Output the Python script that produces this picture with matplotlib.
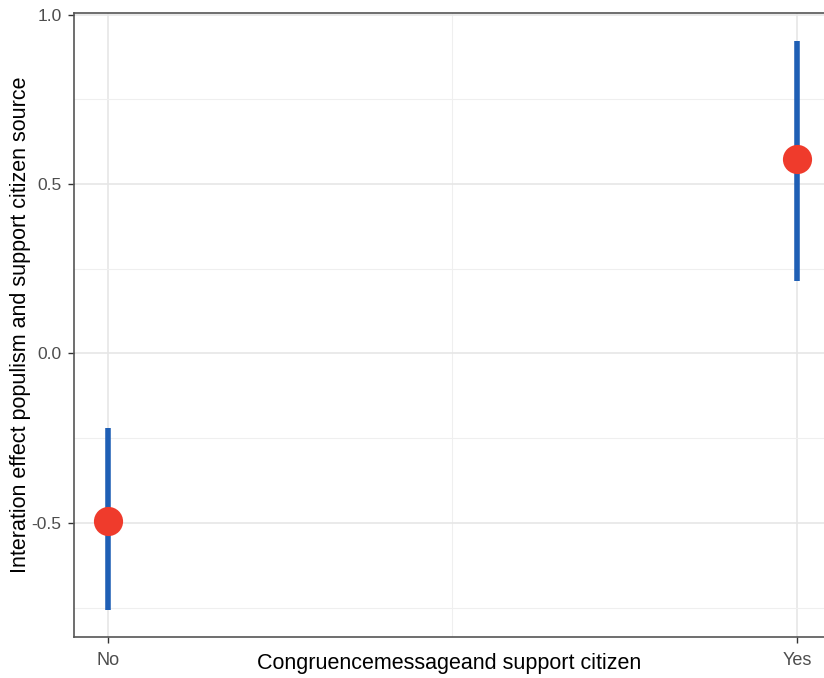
import numpy as np
from matplotlib import pyplot as plt
from matplotlib.ticker import MultipleLocator, FixedLocator

plt.rcParams['font.family'] = ['Liberation Sans', 'DejaVu Sans']
plt.rcParams['axes.unicode_minus'] = False

######## Datos

grupos = ["No", "Yes"]
efecto = [-0.494, 0.574]
inferior = [-0.757, 0.213]
superior = [-0.219, 0.923]

x = np.arange(1, len(grupos) + 1)

######## Grafica

fig = plt.figure(figsize=(8.24, 6.78), dpi=100)
ax = fig.add_axes([0.0898, 0.0605, 0.9102, 0.9203])

ax.vlines(x, inferior, superior, color="#1F5FB5", linewidth=4, zorder=3)
ax.plot(x, efecto, "o", color="#EF3B2C", markersize=21, markeredgewidth=0, zorder=4)

ax.set_xlim(0.951, 2.039)
ax.set_ylim(-0.837, 1.005)

ax.set_xticks(x)
ax.set_xticklabels(grupos)
ax.xaxis.set_minor_locator(FixedLocator([1.5]))
ax.yaxis.set_major_locator(MultipleLocator(0.5))
ax.yaxis.set_minor_locator(MultipleLocator(0.25))

ax.grid(which="major", color="#E6E6E6", linewidth=1.2, zorder=0)
ax.grid(which="minor", color="#EFEFEF", linewidth=0.8, zorder=0)
ax.set_axisbelow(True)

for lado in ["left", "top", "bottom"]:
    ax.spines[lado].set_color("#555555")
    ax.spines[lado].set_linewidth(1.2)
ax.spines["right"].set_visible(False)

ax.tick_params(which="major", length=4, width=1, color="#333333",
               labelcolor="#4D4D4D", labelsize=12.5)
ax.tick_params(axis="y", pad=5)
ax.tick_params(axis="x", pad=6.5, labelsize=13)
ax.tick_params(which="minor", length=0)

ax.set_xlabel("Congruencemessageand support citizen", fontsize=15.5, va="center")
ax.xaxis.set_label_coords(0.5, -0.0433)
ax.set_ylabel("Interation effect populism and support citizen source", fontsize=15.5, va="center")
ax.yaxis.set_label_coords(-0.071, 0.5)

plt.savefig("out.png", dpi=100)
